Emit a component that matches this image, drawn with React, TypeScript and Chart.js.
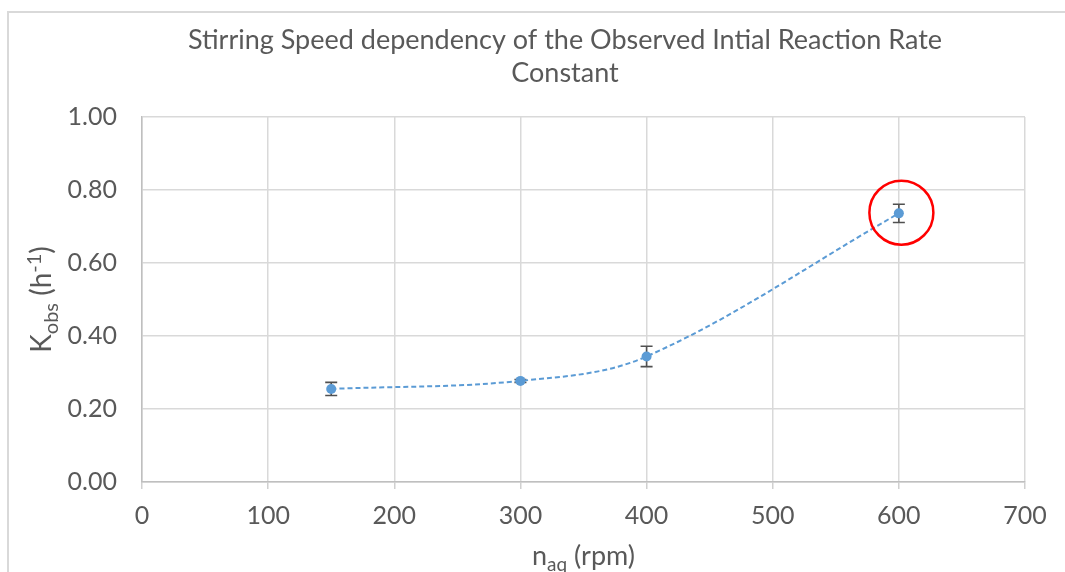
import React, { useEffect, useRef } from "react";
import { Chart, registerables } from "chart.js";

Chart.register(...registerables);

const speeds = [150, 300, 400, 600];
const kobs = [0.255, 0.277, 0.344, 0.736];
const kobsErr = [0.018, 0.004, 0.028, 0.025];
const xTicks = [0, 100, 200, 300, 400, 500, 600, 700];
const yTicks = [0, 0.2, 0.4, 0.6, 0.8, 1.0];
const titleLines = [
  "Stirring Speed dependency of the Observed Intial Reaction Rate",
  "Constant",
];
const highlight = { x: 602, y: 0.738 };

const FONT = "Lato, 'Open Sans', sans-serif";
const TEXT = "#595959";

type Seg = { t: string; k: "b" | "sub" | "sup" };
const yTitle: Seg[] = [
  { t: "K", k: "b" },
  { t: "obs", k: "sub" },
  { t: " (h", k: "b" },
  { t: "-1", k: "sup" },
  { t: ")", k: "b" },
];
const xTitle: Seg[] = [
  { t: "n", k: "b" },
  { t: "aq", k: "sub" },
  { t: " (rpm)", k: "b" },
];

function drawSegs(ctx: CanvasRenderingContext2D, segs: Seg[], size: number) {
  const small = Math.round(size * 0.7);
  const fontFor = (k: string) => `${k === "b" ? size : small}px ${FONT}`;
  let total = 0;
  for (const s of segs) {
    ctx.font = fontFor(s.k);
    total += ctx.measureText(s.t).width;
  }
  let x = -total / 2;
  ctx.textBaseline = "alphabetic";
  ctx.textAlign = "left";
  ctx.fillStyle = TEXT;
  for (const s of segs) {
    ctx.font = fontFor(s.k);
    const dy = s.k === "sub" ? size * 0.24 : s.k === "sup" ? -size * 0.36 : 0;
    ctx.fillText(s.t, x, dy);
    x += ctx.measureText(s.t).width;
  }
}

const customPlugin = {
  id: "custom",
  beforeDatasetsDraw(chart: any) {
    const { ctx, scales } = chart;
    const xs = scales.x;
    const ys = scales.y;
    ctx.save();
    ctx.strokeStyle = "#505050";
    ctx.lineWidth = 1.6;
    for (let i = 0; i < speeds.length; i++) {
      const px = xs.getPixelForValue(speeds[i]);
      const top = ys.getPixelForValue(kobs[i] + kobsErr[i]);
      const bot = ys.getPixelForValue(kobs[i] - kobsErr[i]);
      ctx.beginPath();
      ctx.moveTo(px, top);
      ctx.lineTo(px, bot);
      ctx.moveTo(px - 6, top);
      ctx.lineTo(px + 6, top);
      ctx.moveTo(px - 6, bot);
      ctx.lineTo(px + 6, bot);
      ctx.stroke();
    }
    ctx.restore();
  },
  afterDatasetsDraw(chart: any) {
    const { ctx, scales } = chart;
    ctx.save();
    ctx.strokeStyle = "#ff0000";
    ctx.lineWidth = 2.5;
    ctx.beginPath();
    ctx.arc(
      scales.x.getPixelForValue(highlight.x),
      scales.y.getPixelForValue(highlight.y),
      32,
      0,
      Math.PI * 2
    );
    ctx.stroke();
    ctx.restore();
  },
  afterDraw(chart: any) {
    const { ctx, chartArea } = chart;
    // Title
    ctx.save();
    ctx.fillStyle = TEXT;
    ctx.font = `27px ${FONT}`;
    ctx.textAlign = "center";
    ctx.textBaseline = "middle";
    titleLines.forEach((line, i) => {
      ctx.fillText(line, 565, 40 + i * 33);
    });
    ctx.restore();
    // Y title
    ctx.save();
    ctx.translate(51, (chartArea.top + chartArea.bottom) / 2);
    ctx.rotate(-Math.PI / 2);
    drawSegs(ctx, yTitle, 28);
    ctx.restore();
    // X title
    ctx.save();
    ctx.translate((chartArea.left + chartArea.right) / 2, 565);
    drawSegs(ctx, xTitle, 27);
    ctx.restore();
  },
};

export default function App() {
  const ref = useRef<HTMLCanvasElement>(null);
  useEffect(() => {
    if (!ref.current) return;
    const chart = new Chart(ref.current, {
      type: "line",
      data: {
        datasets: [
          {
            data: speeds.map((s, i) => ({ x: s, y: kobs[i] })),
            borderColor: "#5B9BD5",
            backgroundColor: "#5B9BD5",
            borderWidth: 2,
            borderDash: [5, 3],
            tension: 0.35,
            pointRadius: 5,
            pointBorderWidth: 0,
            pointBackgroundColor: "#5B9BD5",
          },
        ],
      },
      options: {
        responsive: false,
        animation: false,
        devicePixelRatio: 1,
        layout: { padding: { left: 0, right: 40, top: 117, bottom: 0 } },
        plugins: {
          legend: { display: false },
          tooltip: { enabled: false },
          title: { display: false },
        },
        scales: {
          x: {
            type: "linear",
            min: 0,
            max: 700,
            afterBuildTicks: (s: any) => {
              s.ticks = xTicks.map((v) => ({ value: v }));
            },
            afterFit: (s: any) => {
              s.height = 90;
            },
            grid: {
              color: "#d9d9d9",
              lineWidth: 1.5,
              drawTicks: true,
              tickLength: 7,
              tickColor: "#d0d0d0",
            },
            border: { color: "#bfbfbf", width: 1.5 },
            ticks: {
              color: TEXT,
              font: { family: FONT, size: 25 },
              padding: 12,
              maxRotation: 0,
            },
          },
          y: {
            type: "linear",
            min: 0,
            max: 1,
            afterBuildTicks: (s: any) => {
              s.ticks = yTicks.map((v) => ({ value: v }));
            },
            afterFit: (s: any) => {
              s.width = 142;
            },
            grid: { color: "#d9d9d9", lineWidth: 1.5, drawTicks: false },
            border: { color: "#bfbfbf", width: 1.5 },
            ticks: {
              color: TEXT,
              font: { family: FONT, size: 25 },
              padding: 25,
              callback: (v: any) => Number(v).toFixed(2),
            },
          },
        },
      },
      plugins: [customPlugin],
    } as any);
    return () => chart.destroy();
  }, []);

  return (
    <div
      style={{
        position: "fixed",
        left: 0,
        top: 0,
        width: 1065,
        height: 572,
        overflow: "hidden",
        background: "#fff",
      }}
    >
      <div
        style={{
          position: "absolute",
          left: 7,
          top: 11,
          width: 2000,
          height: 2000,
          border: "2px solid #d9d9d9",
        }}
      />
      <canvas
        ref={ref}
        width={1065}
        height={572}
        style={{ position: "absolute", left: 0, top: 0 }}
      />
    </div>
  );
}
